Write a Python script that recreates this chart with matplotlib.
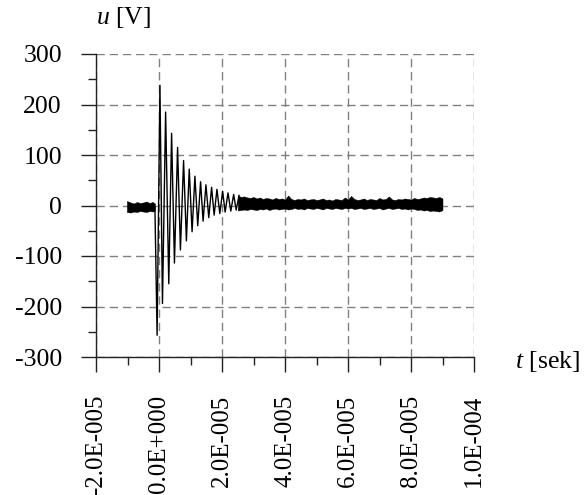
import matplotlib
matplotlib.use("Agg")
import matplotlib.pyplot as plt
from matplotlib.ticker import MultipleLocator, FixedLocator

plt.rcParams['font.family'] = ['Liberation Serif', 'DejaVu Serif']
plt.rcParams['mathtext.fontset'] = 'custom'
plt.rcParams['mathtext.rm'] = 'Liberation Serif'
plt.rcParams['mathtext.it'] = 'Liberation Serif:italic'

# damped oscillation: peaks / troughs (time in microseconds, volts)
osc_t_us = [-1.3, -0.6, 0.3, 1.1, 2.1, 3.1, 4.0, 4.9, 5.9, 6.8, 7.8, 8.7, 9.6,
            10.5, 11.4, 12.3, 13.2, 14.0, 14.9, 15.8, 16.7, 17.5, 18.4, 19.3,
            20.2, 21.0, 21.9, 22.8, 23.7, 24.5, 25.4]
osc_u = [-3, -257, 238, -194, 185, -155, 143, -114, 115, -88, 89, -70, 72,
         -52, 58, -40, 47, -31, 41, -24, 36, -19, 32, -16, 28, -13, 25, -11,
         22, -9, 20]

# noise band before the trigger (upper / lower edge)
pre_t_us = [-10.2, -9, -8, -7, -6, -5, -4, -3, -2, -1.3]
pre_hi = [9, 6, 4, 7, 5, 6, 8, 5, 7, 4]
pre_lo = [-13, -14, -12, -13, -11, -12, -13, -11, -12, -10]

# noise band after the oscillation has died out
band_t_us = [25, 26, 27, 28, 29, 30, 31, 32, 33, 34, 35, 36, 37, 38, 39, 40,
             41, 42, 43, 44, 45, 46, 47, 48, 49, 50, 51, 52, 53, 54, 55, 56,
             57, 58, 59, 60, 61, 62, 63, 64, 65, 66, 67, 68, 69, 70, 71, 72,
             73, 74, 75, 76, 77, 78, 79, 80, 81, 82, 83, 84, 85, 86, 87, 88,
             89, 90]
band_hi = [20, 17, 18, 16, 15, 17, 14, 16, 13, 15, 14, 12, 15, 13, 14, 12,
           20, 13, 11, 13, 12, 14, 11, 12, 13, 11, 12, 14, 11, 12, 10, 13,
           12, 11, 16, 12, 19, 13, 11, 12, 14, 11, 13, 12, 11, 15, 12, 13,
           18, 12, 11, 13, 12, 14, 13, 12, 15, 13, 14, 16, 15, 17, 16, 15,
           17, 14]
band_lo = [-10, -9, -8, -9, -7, -8, -9, -7, -8, -6, -9, -7, -6, -8, -7, -6,
           -8, -7, -5, -7, -6, -8, -5, -6, -7, -5, -6, -8, -5, -6, -7, -5,
           -6, -7, -5, -6, -5, -7, -6, -5, -7, -6, -5, -7, -6, -5, -8, -6,
           -5, -7, -6, -5, -7, -6, -8, -6, -7, -9, -8, -10, -9, -11, -10, -11,
           -12, -9]

x_ticks = [-2e-5, 0, 2e-5, 4e-5, 6e-5, 8e-5, 1e-4]
x_labels = ['-2.0E-005', '0.0E+000', '2.0E-005', '4.0E-005', '6.0E-005',
            '8.0E-005', '1.0E-004']
y_ticks = [-300, -200, -100, 0, 100, 200, 300]
y_labels = ['-300', '-200', '-100', '0', '100', '200', '300']

us = 1e-6

fig = plt.figure(figsize=(5.84, 4.95), dpi=100)
ax = fig.add_axes([96/584, 1-357/495, 378/584, 303/495])

ax.fill_between([t*us for t in pre_t_us], pre_lo, pre_hi, color='black', lw=0.3)
ax.fill_between([t*us for t in band_t_us], band_lo, band_hi, color='black', lw=0.3)
ax.plot([t*us for t in osc_t_us], osc_u, color='black', lw=1.0)

ax.set_xlim(-2e-5, 1e-4)
ax.set_ylim(-300, 300)
ax.xaxis.set_major_locator(FixedLocator(x_ticks))
ax.set_xticklabels(x_labels, rotation=90, fontsize=18)
ax.xaxis.set_minor_locator(MultipleLocator(1e-5))
ax.yaxis.set_major_locator(FixedLocator(y_ticks))
ax.set_yticklabels(y_labels, fontsize=18.5)
ax.yaxis.set_minor_locator(MultipleLocator(50))

ax.grid(True, which='major', color='#808080', linestyle=(0, (6, 3.5)), lw=1.0)
ax.set_axisbelow(True)
for side in ['top', 'right']:
    ax.spines[side].set_visible(False)
for side in ['left', 'bottom']:
    ax.spines[side].set_color('#222222')
    ax.spines[side].set_linewidth(1.0)

ax.tick_params(axis='x', which='major', direction='out', length=10.8, width=1,
               pad=16.5, color='#222222')
ax.tick_params(axis='y', which='major', direction='out', length=10.8, width=1,
               pad=13.7, color='#222222')
ax.tick_params(which='minor', direction='out', length=5.5, width=1, color='#222222')

fig.text(124/584, 1-18/495, r'$u$ [V]', fontsize=18.5, ha='center', va='center')
fig.text(548/584, 1-362/495, r'$t$ [sek]', fontsize=18.5, ha='center', va='center')

fig.savefig('out.png', dpi=100)
